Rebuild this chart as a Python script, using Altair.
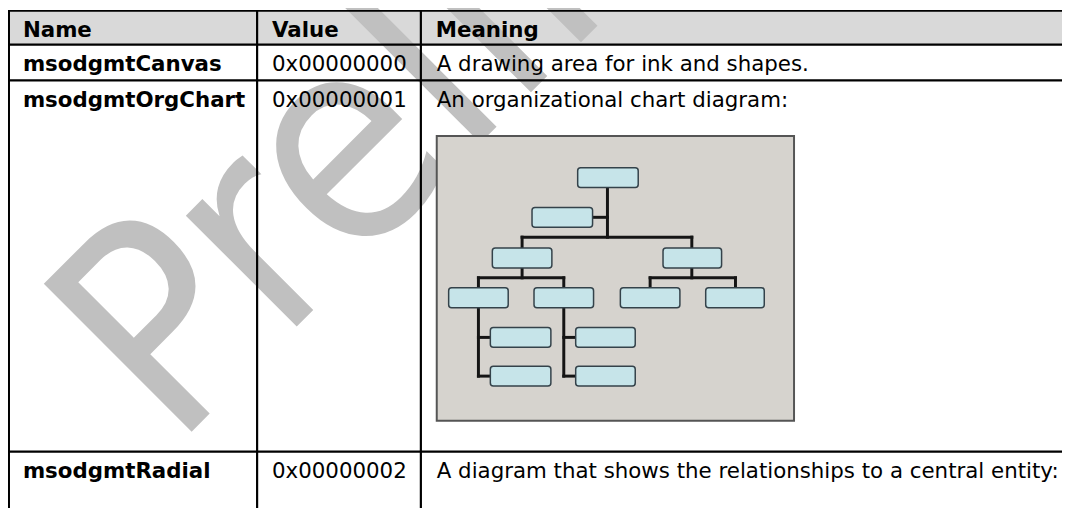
import altair as alt
import pandas as pd

# ---------------- content ----------------
headers = ["Name", "Value", "Meaning"]
names = ["msodgmtCanvas", "msodgmtOrgChart", "msodgmtRadial"]
values = ["0x00000000", "0x00000001", "0x00000002"]
meanings = [
    "A drawing area for ink and shapes.",
    "An organizational chart diagram:",
    "A diagram that shows the relationships to a central entity:",
]
watermark = ["Preliminary"]

# ---------------- layout (page pixels) ----------------
col_edges = [8, 259, 424, 1070]
row_edges = [8, 43, 79, 453, 510]
TEXT_PAD = 16
BASELINE = 27

# embedded org-chart picture
pic_box = [440, 135, 800, 422]
node_x0 = [582, 536, 496, 668, 452, 538, 625, 711, 494, 580, 494, 580]
node_x1 = [643, 597, 556, 727, 512, 598, 685, 770, 555, 640, 555, 640]
node_y0 = [167, 207, 248, 248, 288, 288, 288, 288, 328, 328, 367, 367]
node_y1 = [187, 227, 268, 268, 308, 308, 308, 308, 348, 348, 387, 387]
conn_x1 = [612, 597, 526, 526, 697, 526, 482, 482, 568, 482, 482, 568, 568, 697, 655, 655, 741]
conn_y1 = [187, 217, 237, 237, 237, 268, 278, 278, 278, 338, 377, 338, 377, 268, 278, 278, 278]
conn_x2 = [612, 612, 697, 526, 697, 526, 568, 482, 568, 494, 494, 580, 580, 697, 741, 655, 741]
conn_y2 = [237, 217, 237, 248, 248, 278, 278, 377, 377, 338, 377, 338, 377, 278, 278, 288, 288]

W, H = 1062, 502
xs = alt.Scale(domain=[8, 1070], range=[0, W], nice=False, zero=False)
ys = alt.Scale(domain=[8, 510], range=[0, H], nice=False, zero=False)

def X(f="x"):
    return alt.X(f"{f}:Q", scale=xs, axis=None)

def Y(f="y"):
    return alt.Y(f"{f}:Q", scale=ys, axis=None)

# header background
header_bg = pd.DataFrame({"x": [col_edges[0]], "x2": [col_edges[-1]],
                          "y": [row_edges[0]], "y2": [row_edges[1]]})
l_header = alt.Chart(header_bg).mark_rect(color="#d9d9d9").encode(
    x=X(), x2="x2:Q", y=Y(), y2="y2:Q")

# watermark
wm = pd.DataFrame({"x": [175], "y": [451], "t": watermark})
l_wm = alt.Chart(wm).mark_text(
    font="DejaVu Sans Condensed", fontSize=289, angle=315, color="#c0c0c0",
    align="left", baseline="alphabetic").encode(x=X(), y=Y(), text="t:N")

# picture background
pic = pd.DataFrame({"x": [pic_box[0]], "y": [pic_box[1]], "x2": [pic_box[2]], "y2": [pic_box[3]]})
l_pic = alt.Chart(pic).mark_rect(fill="#d6d3ce", stroke="#555555", strokeWidth=2).encode(
    x=X(), x2="x2:Q", y=Y(), y2="y2:Q")

# connectors
conn = pd.DataFrame({"x": conn_x1, "y": conn_y1, "x2": conn_x2, "y2": conn_y2})
l_conn = alt.Chart(conn).mark_rule(color="#151515", strokeWidth=3, strokeCap="square").encode(
    x=X(), x2="x2:Q", y=Y(), y2="y2:Q")

# nodes
nodes = pd.DataFrame({"x": node_x0, "x2": node_x1, "y": node_y0, "y2": node_y1})
l_nodes = alt.Chart(nodes).mark_rect(fill="#c6e4e9", stroke="#34424a", strokeWidth=1.5,
                                     cornerRadius=3).encode(
    x=X(), x2="x2:Q", y=Y(), y2="y2:Q")

# table lines (outer top/left border nudged inside the drawing area)
h_pos = [row_edges[0] + 1] + row_edges[1:-1]
v_pos = [col_edges[0] + 1] + col_edges[1:-1]
hl = [(col_edges[0], r, col_edges[-1], r) for r in h_pos]
vl = [(c, row_edges[0], c, row_edges[-1]) for c in v_pos]
lines = pd.DataFrame(hl + vl, columns=["x", "y", "x2", "y2"])
lines["w"] = [1.6, 2.2, 2.2, 2.2, 2, 2.2, 2.2]
l_lines = alt.Chart(lines).mark_rule(color="black").encode(
    x=X(), x2="x2:Q", y=Y(), y2="y2:Q", strokeWidth=alt.StrokeWidth("w:Q", scale=None))

# cell text
bold_rows = []
for i, h in enumerate(headers):
    bold_rows.append({"x": col_edges[i] + TEXT_PAD - 1, "y": row_edges[0] + BASELINE, "t": h})
for r, n in enumerate(names):
    bold_rows.append({"x": col_edges[0] + TEXT_PAD - 1, "y": row_edges[r + 1] + BASELINE, "t": n})
reg_rows = []
for r, v in enumerate(values):
    reg_rows.append({"x": col_edges[1] + TEXT_PAD - 1, "y": row_edges[r + 1] + BASELINE, "t": v})
for r, m in enumerate(meanings):
    reg_rows.append({"x": col_edges[2] + TEXT_PAD, "y": row_edges[r + 1] + BASELINE, "t": m})

l_bold = alt.Chart(pd.DataFrame(bold_rows)).mark_text(
    font="DejaVu Sans", fontSize=21.5, fontWeight="bold", color="black",
    align="left", baseline="alphabetic").encode(x=X(), y=Y(), text="t:N")
l_reg = alt.Chart(pd.DataFrame(reg_rows)).mark_text(
    font="DejaVu Sans", fontSize=21.5, color="black",
    align="left", baseline="alphabetic").encode(x=X(), y=Y(), text="t:N")

chart = alt.layer(l_header, l_wm, l_pic, l_conn, l_nodes, l_lines, l_bold, l_reg).properties(
    width=W, height=H, autosize="none", padding=0
).configure_view(stroke=None)

chart.save("out.html", embed_options={"renderer": "svg", "actions": False})
